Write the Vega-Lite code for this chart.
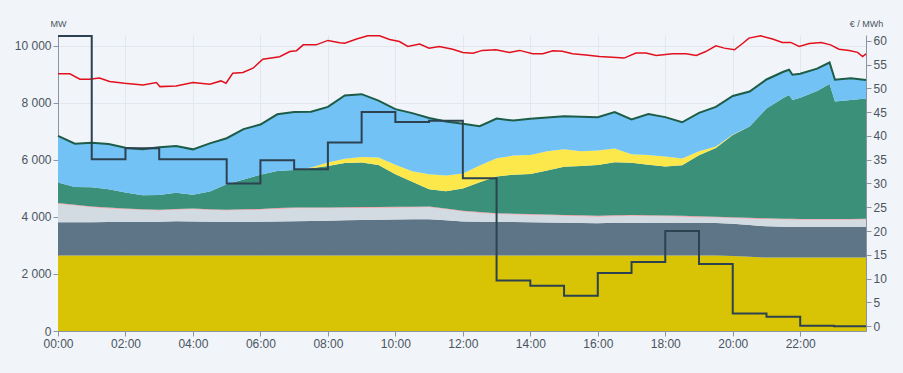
{
  "$schema": "https://vega.github.io/schema/vega-lite/v6.json",
  "width": 808,
  "height": 296,
  "autosize": {"type": "none"},
  "padding": {"left": 58, "top": 35, "right": 37, "bottom": 42},
  "background": "#f1f4f8",
  "config": {
    "view": {"stroke": null},
    "font": "Liberation Sans",
    "axis": {
      "labelFont": "Liberation Sans",
      "labelFontSize": 12,
      "labelColor": "#4a5562",
      "domainColor": "#8995a1",
      "tickColor": "#8995a1",
      "gridColor": "#e2e7ed",
      "titleFont": "Liberation Sans",
      "titleFontSize": 9,
      "titleFontWeight": "normal",
      "titleColor": "#4a5562",
      "labelFlush": false,
      "labelOverlap": false
    }
  },
  "datasets": {
    "gen": [
      {"h": 0.0, "nuclear": 2645, "thermal": 1170, "other": 640, "pink": 30, "hydro": 720, "solar": 0, "import": 1635, "total": 6840},
      {"h": 0.5, "nuclear": 2645, "thermal": 1165, "other": 590, "pink": 30, "hydro": 620, "solar": 0, "import": 1520, "total": 6570},
      {"h": 1.0, "nuclear": 2645, "thermal": 1170, "other": 525, "pink": 30, "hydro": 670, "solar": 0, "import": 1560, "total": 6600},
      {"h": 1.5, "nuclear": 2645, "thermal": 1175, "other": 480, "pink": 30, "hydro": 640, "solar": 0, "import": 1590, "total": 6560},
      {"h": 2.0, "nuclear": 2645, "thermal": 1180, "other": 445, "pink": 30, "hydro": 560, "solar": 0, "import": 1570, "total": 6430},
      {"h": 2.5, "nuclear": 2645, "thermal": 1185, "other": 410, "pink": 30, "hydro": 490, "solar": 0, "import": 1610, "total": 6370},
      {"h": 3.0, "nuclear": 2645, "thermal": 1190, "other": 390, "pink": 30, "hydro": 515, "solar": 0, "import": 1670, "total": 6440},
      {"h": 3.5, "nuclear": 2645, "thermal": 1205, "other": 400, "pink": 30, "hydro": 570, "solar": 0, "import": 1640, "total": 6490},
      {"h": 4.0, "nuclear": 2645, "thermal": 1195, "other": 430, "pink": 30, "hydro": 480, "solar": 0, "import": 1590, "total": 6370},
      {"h": 4.5, "nuclear": 2645, "thermal": 1185, "other": 410, "pink": 30, "hydro": 620, "solar": 0, "import": 1690, "total": 6580},
      {"h": 5.0, "nuclear": 2645, "thermal": 1185, "other": 395, "pink": 30, "hydro": 895, "solar": 0, "import": 1610, "total": 6760},
      {"h": 5.5, "nuclear": 2645, "thermal": 1185, "other": 410, "pink": 30, "hydro": 1040, "solar": 0, "import": 1770, "total": 7080},
      {"h": 6.0, "nuclear": 2645, "thermal": 1190, "other": 415, "pink": 30, "hydro": 1200, "solar": 0, "import": 1760, "total": 7240},
      {"h": 6.5, "nuclear": 2645, "thermal": 1195, "other": 440, "pink": 30, "hydro": 1305, "solar": 0, "import": 1985, "total": 7600},
      {"h": 7.0, "nuclear": 2645, "thermal": 1205, "other": 455, "pink": 30, "hydro": 1315, "solar": 0, "import": 2030, "total": 7680},
      {"h": 7.5, "nuclear": 2645, "thermal": 1215, "other": 445, "pink": 30, "hydro": 1375, "solar": 20, "import": 1960, "total": 7690},
      {"h": 8.0, "nuclear": 2645, "thermal": 1225, "other": 435, "pink": 30, "hydro": 1455, "solar": 115, "import": 1955, "total": 7860},
      {"h": 8.5, "nuclear": 2645, "thermal": 1235, "other": 430, "pink": 30, "hydro": 1550, "solar": 150, "import": 2220, "total": 8260},
      {"h": 9.0, "nuclear": 2645, "thermal": 1245, "other": 425, "pink": 30, "hydro": 1560, "solar": 195, "import": 2205, "total": 8305},
      {"h": 9.5, "nuclear": 2645, "thermal": 1255, "other": 420, "pink": 30, "hydro": 1470, "solar": 260, "import": 2000, "total": 8080},
      {"h": 10.0, "nuclear": 2645, "thermal": 1265, "other": 415, "pink": 30, "hydro": 1145, "solar": 330, "import": 1950, "total": 7780},
      {"h": 10.5, "nuclear": 2645, "thermal": 1270, "other": 415, "pink": 30, "hydro": 870, "solar": 370, "import": 2040, "total": 7640},
      {"h": 11.0, "nuclear": 2645, "thermal": 1275, "other": 420, "pink": 30, "hydro": 600, "solar": 530, "import": 1970, "total": 7470},
      {"h": 11.5, "nuclear": 2645, "thermal": 1235, "other": 390, "pink": 30, "hydro": 600, "solar": 550, "import": 1900, "total": 7350},
      {"h": 12.0, "nuclear": 2645, "thermal": 1195, "other": 350, "pink": 30, "hydro": 780, "solar": 520, "import": 1745, "total": 7265},
      {"h": 12.5, "nuclear": 2645, "thermal": 1185, "other": 310, "pink": 30, "hydro": 1050, "solar": 580, "import": 1380, "total": 7180},
      {"h": 13.0, "nuclear": 2645, "thermal": 1180, "other": 275, "pink": 30, "hydro": 1285, "solar": 645, "import": 1390, "total": 7450},
      {"h": 13.5, "nuclear": 2645, "thermal": 1175, "other": 265, "pink": 30, "hydro": 1365, "solar": 670, "import": 1230, "total": 7380},
      {"h": 14.0, "nuclear": 2645, "thermal": 1170, "other": 255, "pink": 30, "hydro": 1410, "solar": 665, "import": 1265, "total": 7440},
      {"h": 14.5, "nuclear": 2645, "thermal": 1160, "other": 250, "pink": 30, "hydro": 1545, "solar": 670, "import": 1190, "total": 7490},
      {"h": 15.0, "nuclear": 2645, "thermal": 1150, "other": 245, "pink": 30, "hydro": 1690, "solar": 610, "import": 1160, "total": 7530},
      {"h": 15.5, "nuclear": 2645, "thermal": 1140, "other": 240, "pink": 30, "hydro": 1735, "solar": 510, "import": 1210, "total": 7510},
      {"h": 16.0, "nuclear": 2645, "thermal": 1135, "other": 230, "pink": 30, "hydro": 1780, "solar": 510, "import": 1170, "total": 7500},
      {"h": 16.5, "nuclear": 2645, "thermal": 1150, "other": 230, "pink": 30, "hydro": 1865, "solar": 480, "import": 1280, "total": 7680},
      {"h": 17.0, "nuclear": 2645, "thermal": 1155, "other": 240, "pink": 30, "hydro": 1830, "solar": 300, "import": 1220, "total": 7420},
      {"h": 17.5, "nuclear": 2645, "thermal": 1155, "other": 230, "pink": 30, "hydro": 1770, "solar": 340, "import": 1440, "total": 7610},
      {"h": 18.0, "nuclear": 2645, "thermal": 1155, "other": 220, "pink": 30, "hydro": 1715, "solar": 350, "import": 1385, "total": 7500},
      {"h": 18.5, "nuclear": 2645, "thermal": 1155, "other": 210, "pink": 30, "hydro": 1770, "solar": 240, "import": 1270, "total": 7320},
      {"h": 19.0, "nuclear": 2645, "thermal": 1155, "other": 190, "pink": 30, "hydro": 2140, "solar": 140, "import": 1350, "total": 7650},
      {"h": 19.5, "nuclear": 2645, "thermal": 1145, "other": 190, "pink": 30, "hydro": 2410, "solar": 50, "import": 1390, "total": 7860},
      {"h": 20.0, "nuclear": 2630, "thermal": 1130, "other": 200, "pink": 30, "hydro": 2880, "solar": 20, "import": 1350, "total": 8240},
      {"h": 20.5, "nuclear": 2600, "thermal": 1120, "other": 220, "pink": 30, "hydro": 3200, "solar": 0, "import": 1230, "total": 8400},
      {"h": 21.0, "nuclear": 2575, "thermal": 1095, "other": 250, "pink": 30, "hydro": 3850, "solar": 0, "import": 1020, "total": 8820},
      {"h": 21.5, "nuclear": 2575, "thermal": 1085, "other": 250, "pink": 30, "hydro": 4230, "solar": 0, "import": 920, "total": 9090},
      {"h": 21.67, "nuclear": 2575, "thermal": 1085, "other": 250, "pink": 30, "hydro": 4335, "solar": 0, "import": 885, "total": 9160},
      {"h": 21.77, "nuclear": 2575, "thermal": 1085, "other": 245, "pink": 30, "hydro": 4165, "solar": 0, "import": 885, "total": 8985},
      {"h": 22.0, "nuclear": 2575, "thermal": 1085, "other": 240, "pink": 30, "hydro": 4250, "solar": 0, "import": 840, "total": 9020},
      {"h": 22.5, "nuclear": 2575, "thermal": 1085, "other": 240, "pink": 30, "hydro": 4490, "solar": 0, "import": 780, "total": 9200},
      {"h": 22.87, "nuclear": 2575, "thermal": 1085, "other": 240, "pink": 30, "hydro": 4735, "solar": 0, "import": 750, "total": 9415},
      {"h": 23.03, "nuclear": 2575, "thermal": 1085, "other": 240, "pink": 30, "hydro": 4115, "solar": 0, "import": 765, "total": 8810},
      {"h": 23.5, "nuclear": 2575, "thermal": 1085, "other": 240, "pink": 30, "hydro": 4170, "solar": 0, "import": 765, "total": 8865},
      {"h": 23.95, "nuclear": 2575, "thermal": 1085, "other": 250, "pink": 30, "hydro": 4210, "solar": 0, "import": 650, "total": 8800}
    ],
    "cons": [
      {"h": 0.0, "mw": 9018}, {"h": 0.35, "mw": 9020}, {"h": 0.65, "mw": 8830}, {"h": 0.93, "mw": 8830},
      {"h": 1.23, "mw": 8870}, {"h": 1.53, "mw": 8750}, {"h": 1.97, "mw": 8690}, {"h": 2.52, "mw": 8630},
      {"h": 2.92, "mw": 8713}, {"h": 3.02, "mw": 8570}, {"h": 3.5, "mw": 8590}, {"h": 4.0, "mw": 8710},
      {"h": 4.5, "mw": 8650}, {"h": 4.83, "mw": 8770}, {"h": 4.98, "mw": 8690}, {"h": 5.18, "mw": 9040},
      {"h": 5.48, "mw": 9065}, {"h": 5.78, "mw": 9215}, {"h": 6.07, "mw": 9530}, {"h": 6.57, "mw": 9620},
      {"h": 6.87, "mw": 9800}, {"h": 7.07, "mw": 9830}, {"h": 7.27, "mw": 10035}, {"h": 7.65, "mw": 10035},
      {"h": 8.0, "mw": 10190}, {"h": 8.35, "mw": 10110}, {"h": 8.5, "mw": 10090}, {"h": 8.85, "mw": 10240},
      {"h": 9.18, "mw": 10350}, {"h": 9.53, "mw": 10350}, {"h": 9.83, "mw": 10220}, {"h": 10.12, "mw": 10150},
      {"h": 10.37, "mw": 9980}, {"h": 10.72, "mw": 10060}, {"h": 11.0, "mw": 9920}, {"h": 11.3, "mw": 9980},
      {"h": 11.7, "mw": 9880}, {"h": 12.0, "mw": 9770}, {"h": 12.3, "mw": 9740}, {"h": 12.58, "mw": 9840},
      {"h": 12.98, "mw": 9860}, {"h": 13.38, "mw": 9770}, {"h": 13.68, "mw": 9840}, {"h": 14.07, "mw": 9720},
      {"h": 14.37, "mw": 9720}, {"h": 14.67, "mw": 9830}, {"h": 14.95, "mw": 9810}, {"h": 15.25, "mw": 9720},
      {"h": 15.65, "mw": 9680}, {"h": 16.05, "mw": 9625}, {"h": 16.43, "mw": 9600}, {"h": 16.78, "mw": 9570},
      {"h": 17.13, "mw": 9750}, {"h": 17.43, "mw": 9750}, {"h": 17.73, "mw": 9665}, {"h": 18.22, "mw": 9725},
      {"h": 18.62, "mw": 9725}, {"h": 18.92, "mw": 9665}, {"h": 19.2, "mw": 9800}, {"h": 19.5, "mw": 10000},
      {"h": 19.75, "mw": 9920}, {"h": 20.05, "mw": 9860}, {"h": 20.3, "mw": 10090}, {"h": 20.48, "mw": 10270},
      {"h": 20.83, "mw": 10350}, {"h": 21.18, "mw": 10240}, {"h": 21.47, "mw": 10120}, {"h": 21.72, "mw": 10120},
      {"h": 21.97, "mw": 9980}, {"h": 22.27, "mw": 10080}, {"h": 22.62, "mw": 10120}, {"h": 22.9, "mw": 10035},
      {"h": 23.15, "mw": 9880}, {"h": 23.45, "mw": 9840}, {"h": 23.7, "mw": 9770}, {"h": 23.85, "mw": 9625},
      {"h": 23.95, "mw": 9720}
    ],
    "price": [
      {"h": 0, "p": 61.0}, {"h": 1, "p": 35.1}, {"h": 2, "p": 37.4}, {"h": 3, "p": 35.1},
      {"h": 4, "p": 35.1}, {"h": 5, "p": 30.0}, {"h": 6, "p": 34.9}, {"h": 7, "p": 33.0},
      {"h": 8, "p": 38.6}, {"h": 9, "p": 45.0}, {"h": 10, "p": 42.9}, {"h": 11, "p": 43.2},
      {"h": 12, "p": 31.1}, {"h": 13, "p": 9.6}, {"h": 14, "p": 8.5}, {"h": 15, "p": 6.4},
      {"h": 16, "p": 11.2}, {"h": 17, "p": 13.5}, {"h": 18, "p": 20.0}, {"h": 19, "p": 13.1},
      {"h": 20, "p": 2.7}, {"h": 21, "p": 2.0}, {"h": 22, "p": 0.1}, {"h": 23, "p": 0.0},
      {"h": 23.95, "p": 0.0}
    ]
  },
  "layer": [
    {
      "layer": [
        {
          "data": {"name": "gen"},
          "transform": [
            {"fold": ["nuclear", "thermal", "other", "pink", "hydro", "solar", "import"], "as": ["source", "mw"]},
            {"lookup": "source", "from": {"data": {"values": [
              {"source": "nuclear", "rank": 1}, {"source": "thermal", "rank": 2}, {"source": "other", "rank": 3},
              {"source": "pink", "rank": 4}, {"source": "hydro", "rank": 5}, {"source": "solar", "rank": 6},
              {"source": "import", "rank": 7}]}, "key": "source", "fields": ["rank"]}}
          ],
          "mark": {"type": "area", "interpolate": "linear"},
          "encoding": {
            "x": {
              "field": "h", "type": "quantitative", "title": null,
              "scale": {"domain": [0, 23.95], "nice": false, "zero": false},
              "axis": {
                "values": [0, 2, 4, 6, 8, 10, 12, 14, 16, 18, 20, 22],
                "labelExpr": "(datum.value < 10 ? '0' : '') + datum.value + ':00'",
                "grid": true, "tickSize": 5, "labelPadding": 2, "labelFlush": false
              }
            },
            "y": {
              "field": "mw", "type": "quantitative", "stack": "zero", "title": "MW",
              "scale": {"domain": [0, 10380], "nice": false},
              "axis": {
                "values": [0, 1000, 2000, 3000, 4000, 5000, 6000, 7000, 8000, 9000, 10000],
                "labelExpr": "replace(format(datum.value, ','), ',', ' ')",
                "grid": true, "titleAngle": 0, "titleX": 0, "titleY": -12,
                "titleAlign": "center", "titleBaseline": "middle"
              }
            },
            "color": {
              "field": "source", "type": "nominal", "legend": null,
              "scale": {
                "domain": ["nuclear", "thermal", "other", "pink", "hydro", "solar", "import"],
                "range": ["#d8c404", "#5d7586", "#d3dbe2", "#f2a2aa", "#3a9078", "#fde84b", "#73c2f5"]
              }
            },
            "order": {"field": "rank", "type": "quantitative"}
          }
        },
        {
          "data": {"name": "gen"},
          "mark": {"type": "line", "color": "#1d5c47", "strokeWidth": 2},
          "encoding": {
            "x": {"field": "h", "type": "quantitative", "title": null},
            "y": {"field": "total", "type": "quantitative", "title": "MW"}
          }
        },
        {
          "data": {"name": "cons"},
          "mark": {"type": "line", "color": "#e2101d", "strokeWidth": 1.5},
          "encoding": {
            "x": {"field": "h", "type": "quantitative", "title": null},
            "y": {"field": "mw", "type": "quantitative", "title": "MW"}
          }
        }
      ]
    },
    {
      "data": {"name": "price"},
      "mark": {"type": "line", "interpolate": "step-after", "color": "#2c4250", "strokeWidth": 2},
      "encoding": {
        "x": {"field": "h", "type": "quantitative", "title": null},
        "y": {
          "field": "p", "type": "quantitative", "title": "€ / MWh",
          "scale": {"domain": [-1, 61.2], "nice": false, "zero": false},
          "axis": {
            "orient": "right",
            "values": [0, 5, 10, 15, 20, 25, 30, 35, 40, 45, 50, 55, 60],
            "grid": false, "titleAngle": 0, "titleX": 0, "titleY": -12,
            "titleAlign": "center", "titleBaseline": "middle"
          }
        }
      }
    }
  ],
  "resolve": {"scale": {"y": "independent"}}
}
